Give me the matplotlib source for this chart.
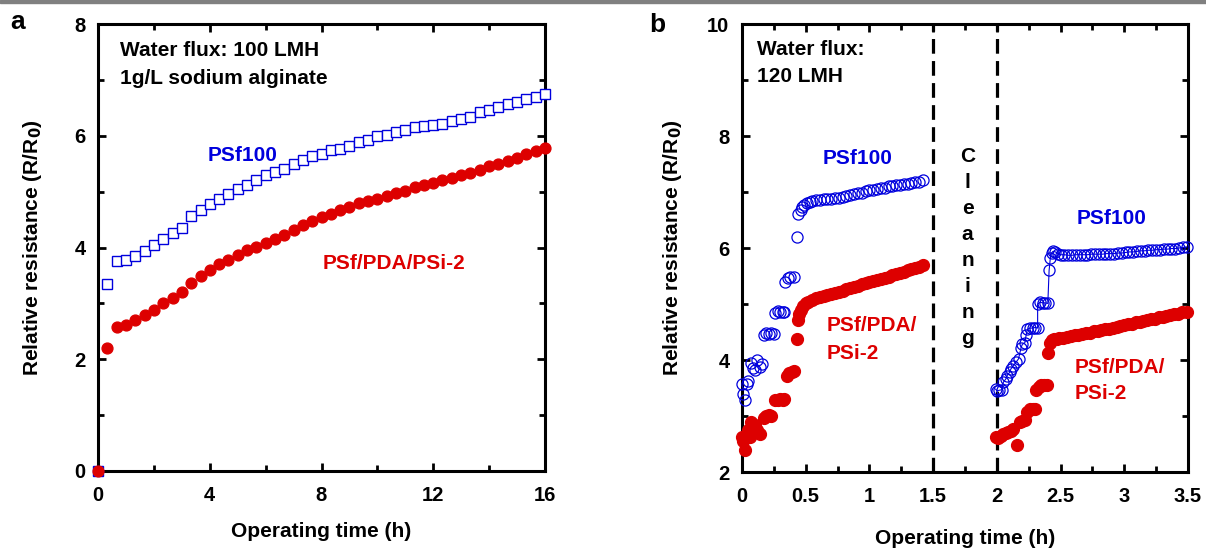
import matplotlib
matplotlib.use("Agg")
import matplotlib.pyplot as plt
from matplotlib.patches import Rectangle

plt.rcParams["font.family"] = ["Liberation Sans", "DejaVu Sans"]
plt.rcParams["font.weight"] = "bold"
plt.rcParams["axes.labelweight"] = "bold"

BLUE = "#0000dd"
RED = "#dd0000"

# ---- panel a : 100 LMH, 16 h run -------------------------------------------
a_time = [0, 0.33, 0.67, 1.0, 1.33, 1.67, 2.0, 2.33, 2.67, 3.0, 3.33, 3.67,
          4.0, 4.33, 4.67, 5.0, 5.33, 5.67, 6.0, 6.33, 6.67, 7.0, 7.33, 7.67,
          8.0, 8.33, 8.67, 9.0, 9.33, 9.67, 10.0, 10.33, 10.67, 11.0, 11.33,
          11.67, 12.0, 12.33, 12.67, 13.0, 13.33, 13.67, 14.0, 14.33, 14.67,
          15.0, 15.33, 15.67, 16.0]
a_psf100 = [0, 3.34, 3.76, 3.78, 3.84, 3.93, 4.05, 4.15, 4.26, 4.35, 4.56,
            4.67, 4.77, 4.87, 4.96, 5.05, 5.12, 5.21, 5.29, 5.35, 5.41, 5.49,
            5.56, 5.63, 5.68, 5.74, 5.77, 5.82, 5.88, 5.93, 5.99, 6.02, 6.07,
            6.11, 6.15, 6.18, 6.20, 6.21, 6.26, 6.30, 6.34, 6.43, 6.46, 6.52,
            6.57, 6.61, 6.66, 6.69, 6.74]
a_psi2 = [0, 2.20, 2.58, 2.61, 2.71, 2.79, 2.88, 3.00, 3.10, 3.20, 3.36, 3.49,
          3.60, 3.70, 3.77, 3.86, 3.95, 4.01, 4.08, 4.15, 4.23, 4.31, 4.40,
          4.47, 4.54, 4.60, 4.68, 4.73, 4.79, 4.83, 4.87, 4.92, 4.98, 5.02,
          5.08, 5.12, 5.16, 5.20, 5.24, 5.29, 5.33, 5.39, 5.45, 5.49, 5.54,
          5.61, 5.67, 5.72, 5.78]

# ---- panel b : 120 LMH, before cleaning ------------------------------------
b1_psf100_t = [0.00, 0.01, 0.02, 0.04, 0.05, 0.07, 0.09, 0.10, 0.12, 0.14,
               0.16, 0.17, 0.19, 0.21, 0.23, 0.25, 0.26, 0.28, 0.30, 0.32,
               0.33, 0.34, 0.36, 0.38, 0.41, 0.43, 0.44, 0.46, 0.47, 0.49,
               0.51, 0.53, 0.55, 0.58, 0.61, 0.64, 0.67, 0.70, 0.73, 0.76,
               0.79, 0.82, 0.85, 0.88, 0.91, 0.94, 0.97, 1.00, 1.03, 1.06,
               1.09, 1.12, 1.15, 1.18, 1.21, 1.24, 1.27, 1.30, 1.33, 1.36,
               1.39, 1.42]
b1_psf100 = [3.58, 3.40, 3.29, 3.58, 3.62, 3.94, 3.85, 3.82, 4.00, 3.88,
             3.92, 4.45, 4.48, 4.47, 4.48, 4.46, 4.84, 4.87, 4.86, 4.85,
             4.86, 5.40, 5.46, 5.49, 5.49, 6.20, 6.60, 6.68, 6.73, 6.77,
             6.80, 6.82, 6.84, 6.85, 6.86, 6.87, 6.88, 6.88, 6.89, 6.90,
             6.91, 6.93, 6.94, 6.96, 6.98, 6.99, 7.01, 7.03, 7.04, 7.05,
             7.07, 7.08, 7.10, 7.11, 7.12, 7.13, 7.14, 7.15, 7.16, 7.17,
             7.18, 7.21]
b1_psi2_t = [0.00, 0.01, 0.02, 0.03, 0.05, 0.06, 0.07, 0.09, 0.10, 0.12,
             0.14, 0.17, 0.19, 0.21, 0.23, 0.26, 0.28, 0.30, 0.32, 0.33,
             0.35, 0.37, 0.39, 0.41, 0.43, 0.44, 0.45, 0.46, 0.48, 0.50,
             0.52, 0.55, 0.58, 0.61, 0.64, 0.67, 0.70, 0.73, 0.76, 0.79,
             0.82, 0.85, 0.88, 0.91, 0.94, 0.97, 1.00, 1.03, 1.06, 1.09,
             1.12, 1.15, 1.18, 1.21, 1.24, 1.27, 1.30, 1.33, 1.36, 1.39,
             1.42]
b1_psi2 = [2.63, 2.55, 2.39, 2.66, 2.75, 2.62, 2.90, 2.80, 2.84, 2.75,
           2.68, 2.97, 3.00, 3.01, 3.00, 3.28, 3.29, 3.30, 3.29, 3.30,
           3.72, 3.77, 3.79, 3.80, 4.37, 4.71, 4.82, 4.90, 4.96, 5.01,
           5.04, 5.07, 5.10, 5.12, 5.14, 5.16, 5.18, 5.20, 5.22, 5.24,
           5.27, 5.29, 5.31, 5.33, 5.35, 5.37, 5.39, 5.41, 5.43, 5.45,
           5.47, 5.49, 5.51, 5.53, 5.55, 5.57, 5.60, 5.62, 5.64, 5.66,
           5.69]

# ---- panel b : after cleaning ----------------------------------------------
b2_psf100_t = [1.99, 2.00, 2.02, 2.04, 2.05, 2.07, 2.08, 2.10, 2.11, 2.13,
               2.15, 2.17, 2.19, 2.20, 2.22, 2.23, 2.24, 2.26, 2.28, 2.30,
               2.32, 2.32, 2.34, 2.36, 2.38, 2.40, 2.41, 2.42, 2.43, 2.44,
               2.46, 2.48, 2.50, 2.53, 2.56, 2.59, 2.62, 2.65, 2.68, 2.71,
               2.74, 2.77, 2.80, 2.83, 2.86, 2.89, 2.92, 2.95, 2.98, 3.01,
               3.04, 3.07, 3.10, 3.13, 3.16, 3.19, 3.22, 3.25, 3.28, 3.31,
               3.34, 3.37, 3.40, 3.43, 3.46, 3.49]
b2_psf100 = [3.48, 3.45, 3.46, 3.47, 3.60, 3.66, 3.72, 3.78, 3.84, 3.90,
             3.96, 4.02, 4.22, 4.28, 4.31, 4.45, 4.55, 4.57, 4.57, 4.58,
             4.57, 5.00, 5.03, 5.02, 5.02, 5.01, 5.60, 5.83, 5.91, 5.94,
             5.93, 5.90, 5.88, 5.88, 5.87, 5.87, 5.88, 5.88, 5.88, 5.88,
             5.89, 5.89, 5.89, 5.89, 5.90, 5.90, 5.90, 5.91, 5.91, 5.92,
             5.93, 5.93, 5.94, 5.95, 5.95, 5.96, 5.96, 5.97, 5.97, 5.98,
             5.98, 5.99, 5.99, 6.00, 6.01, 6.02]
b2_psi2_t = [1.99, 2.01, 2.03, 2.05, 2.07, 2.09, 2.11, 2.13, 2.16, 2.18,
             2.20, 2.22, 2.24, 2.26, 2.28, 2.30, 2.31, 2.33, 2.35, 2.37,
             2.39, 2.40, 2.42, 2.43, 2.45, 2.47, 2.49, 2.52, 2.55, 2.58,
             2.61, 2.64, 2.67, 2.70, 2.73, 2.76, 2.79, 2.82, 2.85, 2.88,
             2.91, 2.94, 2.97, 3.00, 3.03, 3.06, 3.09, 3.12, 3.15, 3.18,
             3.21, 3.24, 3.27, 3.30, 3.33, 3.36, 3.39, 3.42, 3.45, 3.49]
b2_psi2 = [2.62, 2.60, 2.64, 2.68, 2.70, 2.72, 2.74, 2.76, 2.48, 2.90,
           2.91, 2.93, 3.08, 3.12, 3.13, 3.13, 3.47, 3.52, 3.55, 3.56,
           3.56, 4.12, 4.30, 4.36, 4.38, 4.38, 4.39, 4.40, 4.41, 4.42,
           4.44, 4.45, 4.46, 4.48, 4.49, 4.51, 4.52, 4.53, 4.55, 4.56,
           4.58, 4.59, 4.61, 4.62, 4.64, 4.65, 4.67, 4.68, 4.70, 4.71,
           4.73, 4.74, 4.76, 4.77, 4.79, 4.80, 4.82, 4.83, 4.85, 4.86]

cleaning_start, cleaning_end = 1.5, 2.0

W, H = 1206, 550
fig = plt.figure(figsize=(W / 100, H / 100), dpi=100)


def box(left, bottom, right, top):
    return [left / W, 1 - bottom / H, (right - left) / W, (bottom - top) / H]


def style(ax):
    for s in ax.spines.values():
        s.set_linewidth(2.2)
    ax.tick_params(which="both", direction="in", top=True, right=True,
                   width=2.0, labelsize=14.5)
    ax.tick_params(which="major", length=6)
    ax.tick_params(which="minor", length=4)
    ax.tick_params(axis="x", pad=11)
    ax.tick_params(axis="y", pad=9)


ylab = "Relative resistance (R/R$_\\mathbf{0}$)"

# ---------------------------------------------------------------- panel a
ax1 = fig.add_axes(box(98, 471, 545, 24))
ax1.plot(a_time, a_psf100, "s", ms=6.5, mfc="white", mec=BLUE, mew=1.0,
         clip_on=False, zorder=3)
ax1.plot(a_time, a_psi2, "o", ms=7.8, color=RED, mec=RED, clip_on=False,
         zorder=4)
ax1.set_xlim(0, 16)
ax1.set_ylim(0, 8)
ax1.set_xticks([0, 4, 8, 12, 16])
ax1.set_xticks([2, 6, 10, 14], minor=True)
ax1.set_yticks([0, 2, 4, 6, 8])
ax1.set_yticks([1, 3, 5, 7], minor=True)
style(ax1)
ax1.set_xlabel("Operating time (h)", fontsize=15)
ax1.set_ylabel(ylab, fontsize=15)
ax1.xaxis.set_label_coords(0.5, -0.115)
ax1.yaxis.set_label_coords(-0.12, 0.5)
ax1.text(0.79, 7.52, "Water flux: 100 LMH", fontsize=15, va="center")
ax1.text(0.79, 7.03, "1g/L sodium alginate", fontsize=15, va="center")
ax1.text(5.19, 5.65, "PSf100", color=BLUE, fontsize=15, ha="center",
         va="center")
ax1.text(10.6, 3.72, "PSf/PDA/PSi-2", color=RED, fontsize=15, ha="center",
         va="center")

# ---------------------------------------------------------------- panel b
ax2 = fig.add_axes(box(742, 472, 1188, 24))
ax2.plot(b1_psf100_t, b1_psf100, "o", ms=8.0, mfc="none", mec=BLUE,
         mew=0.9, clip_on=False, zorder=3)
ax2.plot(b2_psf100_t, b2_psf100, "o-", ms=8.0, mfc="none", mec=BLUE,
         color=BLUE, lw=0.8, mew=0.9, clip_on=False, zorder=3)
ax2.plot(b1_psi2_t, b1_psi2, "o", ms=8.5, color=RED, clip_on=False, zorder=4)
ax2.plot(b2_psi2_t, b2_psi2, "o", ms=8.5, color=RED, clip_on=False, zorder=4)
for xc in (cleaning_start, cleaning_end):
    ax2.axvline(xc, color="black", lw=2.3, ls=(0, (4.6, 2.3)), zorder=2)
ax2.set_xlim(0, 3.5)
ax2.set_ylim(2, 10)
ax2.set_xticks([0, 0.5, 1, 1.5, 2, 2.5, 3, 3.5])
ax2.set_xticklabels(["0", "0.5", "1", "1.5", "2", "2.5", "3", "3.5"])
ax2.set_xticks([0.25, 0.75, 1.25, 1.75, 2.25, 2.75, 3.25], minor=True)
ax2.set_yticks([2, 4, 6, 8, 10])
ax2.set_yticks([3, 5, 7, 9], minor=True)
style(ax2)
ax2.set_xlabel("Operating time (h)", fontsize=15)
ax2.set_ylabel(ylab, fontsize=15)
ax2.xaxis.set_label_coords(0.5, -0.128)
ax2.yaxis.set_label_coords(-0.13, 0.5)
ax2.text(0.118, 9.55, "Water flux:", fontsize=15, va="center")
ax2.text(0.118, 9.06, "120 LMH", fontsize=15, va="center")
ax2.text(0.905, 7.59, "PSf100", color=BLUE, fontsize=15, ha="center",
         va="center")
ax2.text(0.667, 4.61, "PSf/PDA/", color=RED, fontsize=15, va="center")
ax2.text(0.667, 4.12, "PSi-2", color=RED, fontsize=15, va="center")
ax2.text(2.90, 6.52, "PSf100", color=BLUE, fontsize=15, ha="center",
         va="center")
ax2.text(2.614, 3.86, "PSf/PDA/", color=RED, fontsize=15, va="center")
ax2.text(2.614, 3.41, "PSi-2", color=RED, fontsize=15, va="center")
for i, ch in enumerate("Cleaning"):
    ax2.text(1.77, 7.54 - i * 0.464, ch, fontsize=15, ha="center",
             va="baseline")

# panel letters and the grey rule along the top edge
fig.text(10 / W, 1 - 29 / H, "a", fontsize=19)
fig.text(649 / W, 1 - 32 / H, "b", fontsize=19)
fig.add_artist(Rectangle((0, 1 - 2.5 / H), 1, 2.5 / H, color="#808080",
                         transform=fig.transFigure))

fig.savefig("out.png", dpi=100)
